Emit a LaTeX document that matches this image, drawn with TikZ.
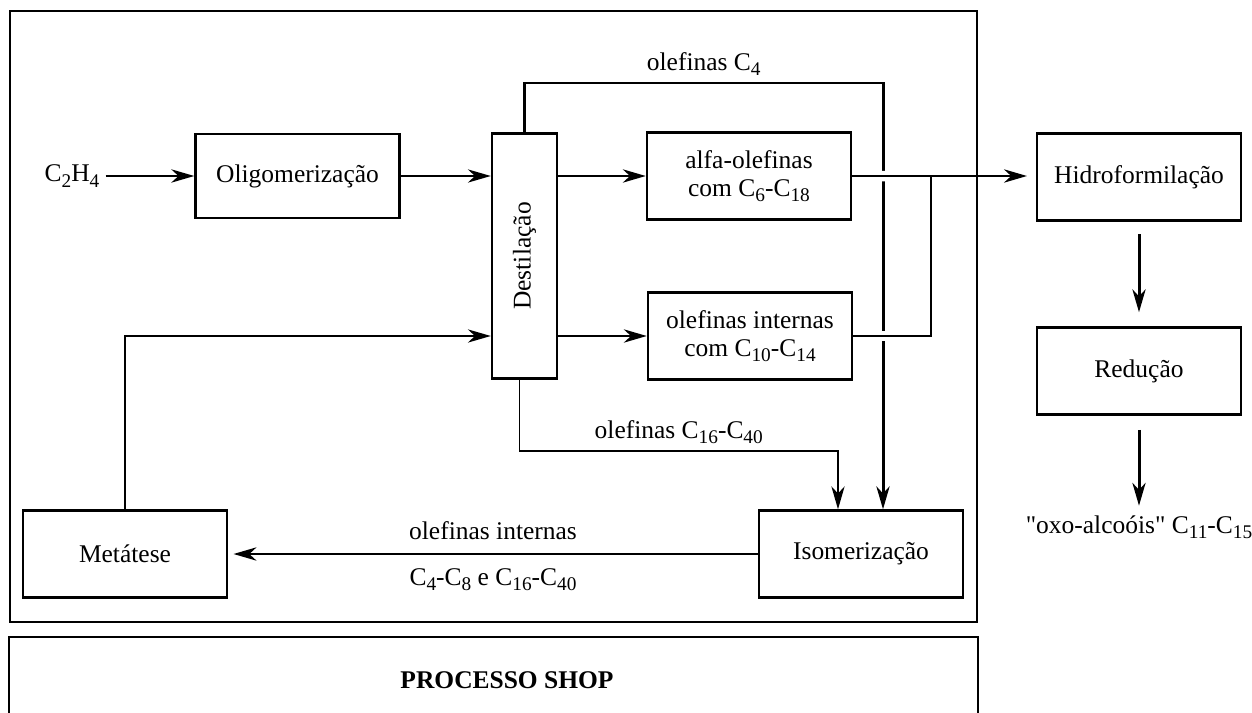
\documentclass[tikz,border=0pt]{standalone}
\usepackage{fontspec}
\usepackage{graphicx}
\setmainfont{Liberation Serif}
\usetikzlibrary{arrows.meta,positioning}
\newcommand{\subs}[1]{\raisebox{-0.45ex}{\fontsize{11pt}{12pt}\selectfont #1}}

\begin{document}
\begin{tikzpicture}[x=0.02cm, y=-0.02cm, font=\fontsize{14.5pt}{16pt}\selectfont,
    box/.style={draw, line width=1.4pt, minimum width=4.08cm, minimum height=1.74cm, align=center},
    flow/.style={-{Stealth[length=13pt, width=7.5pt, inset=4pt]}, line width=1.7pt},
    thinflow/.style={-{Stealth[length=13pt, width=7.5pt, inset=4pt]}, line width=1.1pt},
    bridge/.style={white, line width=6pt}]
        \useasboundingbox (0,0) rectangle (1252,713);
        \node (c2h4) at (72,176) {C\subs{2}H\subs{4}};
        \node (olig) [box, minimum height=1.68cm] at (297.5,176) {Oligomerização};
        \node (destil) [box, minimum width=1.3cm, minimum height=4.9cm] at (524.5,256) {\rotatebox{90}{Destilação}};
        \node (alfa) [box] at (749,176) {alfa-olefinas\\com C\subs{6}-C\subs{18}};
        \node (intern) [box] at (750,336) {olefinas internas\\com C\subs{10}-C\subs{14}};
        \node (hidro) [box] at (1139,177) {Hidroformilação};
        \node (reduc) [box] at (1139,371) {Redução};
        \node (oxo) at (1139,527) {\textquotedbl oxo-alcoóis\textquotedbl{} C\subs{11}-C\subs{15}};
        \node (isom) [box] at (861,554) {Isomerização};
        \node (metat) [box] at (125,554) {Metátese};
        \node (shop) [font=\fontsize{14.5pt}{16pt}\selectfont\bfseries] at (507,680) {PROCESSO SHOP};
        \coordinate (c4) at (883,83);
        \coordinate (c16) at (838,451);
        \coordinate (jn) at (931,176);

        \draw[flow] (c2h4) -- (olig);
        \draw[thinflow] (olig) -- (olig -| destil.west);
        \draw[flow] (destil.east |- alfa) -- (alfa);
        \draw[flow] (destil.east |- intern) -- (intern);
        \draw[thinflow] (metat) |- (destil.west |- intern);
        \draw[flow] (destil) |- (c4) node[pos=0.75, above] {olefinas C\subs{4}} -- (c4 |- isom.north);
        \draw[thinflow] ([xshift=-0.1cm]destil.south) |- (c16) node[pos=0.75, above] {olefinas C\subs{16}-C\subs{40}} -- (c16 |- isom.north);
        \draw[bridge] (alfa.east) -- (hidro.west);
        \draw[bridge] (intern.east) -- (jn |- intern);
        \draw[flow, shorten >=5pt] (alfa) -- (alfa -| hidro.west);
        \draw[line width=1.4pt] (intern) -| (jn);
        \draw[flow, shorten <=7pt, shorten >=8pt] (hidro) -- (reduc);
        \draw[flow, shorten <=8pt, shorten >=2pt] (reduc) -- (oxo);
        \draw[flow, shorten >=3pt] (isom) -- (metat) node[midway, above=4pt] {olefinas internas} node[midway, below=4pt] {C\subs{4}-C\subs{8} e C\subs{16}-C\subs{40}};
        \draw[line width=1.4pt] (10,11) rectangle (977,622);
        \draw[line width=1.4pt] (9,740) -- (9,637) -- (978,637) -- (978,740);
    \end{tikzpicture}
\end{document}
